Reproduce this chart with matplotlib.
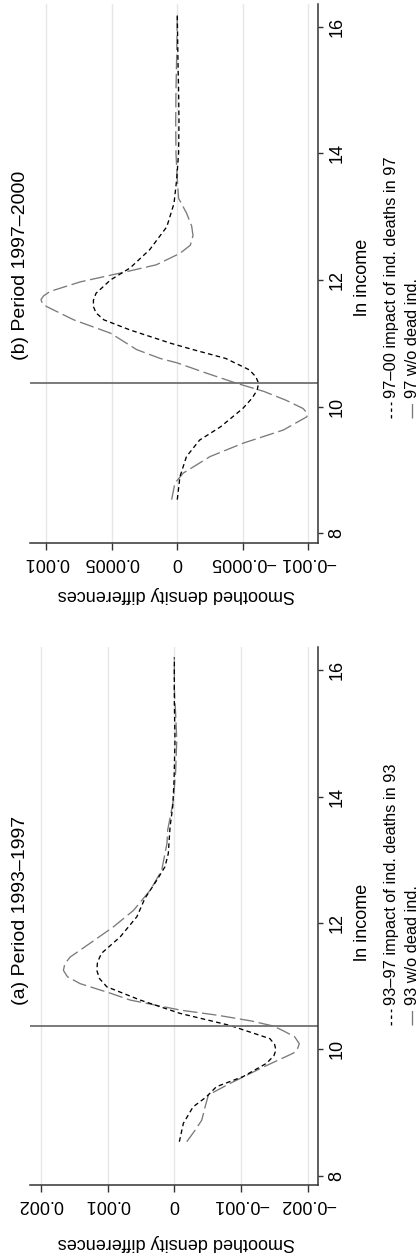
import matplotlib
matplotlib.use('Agg')
import matplotlib.pyplot as plt
from matplotlib.lines import Line2D

plt.rcParams['font.family'] = ['Liberation Sans', 'DejaVu Sans']

# ---- data (ln income, smoothed density differences) ----
# panel (a) 1993-1997
a_imp_x = [8.54, 8.83, 9.09, 9.25, 9.41, 9.57, 9.78, 9.9, 9.99, 10.08, 10.17, 10.38, 10.57,
           10.78, 10.99, 11.12, 11.25, 11.38, 11.52, 11.78, 12.10, 12.39, 12.68, 12.89, 13.10,
           13.52, 13.84, 14.26, 14.9, 15.5, 16.2]
a_imp_y = [-0.000075, -0.000135, -0.00028, -0.00048, -0.00063, -0.00103, -0.00138, -0.00149,
           -0.00152, -0.0015, -0.00143, -0.00083, -0.000085, 0.00051, 0.00101, 0.00112,
           0.00116, 0.00115, 0.00109, 0.00081, 0.00056, 0.00044, 0.00026, 0.00014, 0.00009,
           0.000064, 0.000024, 0.000004, -0.00001, 0.0, 0.0]
a_wo_x = [8.54, 8.72, 8.88, 9.09, 9.28, 9.46, 9.72, 9.94, 10.0, 10.09, 10.2, 10.3, 10.37,
          10.45, 10.54, 10.62, 10.78, 10.89, 11.04, 11.15, 11.25, 11.35, 11.46, 11.68, 11.94,
          12.2, 12.52, 12.83, 13.26, 13.47, 13.68, 13.94, 14.4, 14.89, 15.3, 15.7, 16.2]
a_wo_y = [-0.000186, -0.00031, -0.00041, -0.00046, -0.00051, -0.00083, -0.00133, -0.00178,
          -0.00184, -0.00187, -0.0018, -0.00162, -0.00148, -0.00115, -0.00065, -0.0001,
          0.00066, 0.00096, 0.00141, 0.0016, 0.00166, 0.00164, 0.00156, 0.00126, 0.00091,
          0.00061, 0.00036, 0.00019, 0.00011, 0.0001, 0.00006, 0.000015, -0.00002,
          -0.000036, -0.00002, 0.0, 0.0]

# panel (b) 1997-2000
b_imp_x = [8.53, 8.89, 9.21, 9.47, 9.68, 9.97, 10.13, 10.26, 10.37, 10.47, 10.58, 10.76,
           10.9, 11.0, 11.21, 11.37, 11.48, 11.58, 11.68, 11.79, 12.0, 12.19, 12.48, 12.84,
           13.21, 13.58, 14.0, 14.5, 15.0, 15.5, 16.18]
b_imp_y = [0.0, -0.00002, -0.00007, -0.00017, -0.00033, -0.0005, -0.00057, -0.00061,
           -0.00062, -0.0006, -0.00055, -0.00037, -0.00012, 0.00005, 0.00036, 0.00056,
           0.00062, 0.00064, 0.00064, 0.00062, 0.00051, 0.00036, 0.00021, 0.00008, 0.000025,
           0.000005, -0.00001, -0.000013, -0.00001, -0.000005, 0.0]
b_wo_x = [8.53, 8.79, 8.95, 9.21, 9.42, 9.63, 9.84, 9.9, 9.97, 10.1, 10.24, 10.37, 10.53,
          10.69, 10.76, 10.9, 11.16, 11.37, 11.58, 11.63, 11.69, 11.75, 11.82, 11.97, 12.13,
          12.24, 12.42, 12.55, 12.7, 12.85, 13.06, 13.29, 13.6, 14.0, 14.5, 15.0, 15.5, 16.18]
b_wo_y = [0.000043, 0.000018, -0.000046, -0.00025, -0.0005, -0.00081, -0.00099, -0.00099,
          -0.00096, -0.00083, -0.00066, -0.00045, -0.00022, 0.0, 0.00013, 0.00031, 0.00051,
          0.00079, 0.000997, 0.00103, 0.00104, 0.00102, 0.00097, 0.00074, 0.00039, 0.00016,
          -0.00002, -0.0001, -0.00012, -0.00011, -0.00007, -0.00001, 0.0, 0.00001, 0.000012,
          0.00001, 0.000005, 0.0]

cutoff = 10.37
income_ticks = [8, 10, 12, 14, 16]
a_dens_ticks = [0.002, 0.001, 0, -0.001, -0.002]
a_dens_labels = ['0.002', '0.001', '0', '\u22120.001', '\u22120.002']
b_dens_ticks = [0.001, 0.0005, 0, -0.0005, -0.001]
b_dens_labels = ['0.001', '0.0005', '0', '\u22120.0005', '\u22120.001']

titles = ['(a) Period 1993\u20131997', '(b) Period 1997\u20132000']
leg_a = ['93\u201397 impact of ind. deaths in 93', '93 w/o dead ind.']
leg_b = ['97\u201300 impact of ind. deaths in 97', '97 w/o dead ind.']

W, H = 419, 1257
fig = plt.figure(figsize=(W / 100, H / 100), dpi=100)


def fx(px):
    return px / W


def fy(py):
    return 1 - py / H


def panel(top, bottom, xlim, ylim, imp, wo, ticks, labels):
    # whole chart is drawn turned by 90 degrees: ln income runs upward
    ax = fig.add_axes([fx(30), fy(bottom), fx(318) - fx(30), (bottom - top) / H])
    ax.plot(wo[1], wo[0], color='#7a7a7a', lw=0.95, ls=(0, (11, 3.5)))
    ax.plot(imp[1], imp[0], color='black', lw=0.95, ls=(0, (3.5, 2.5)))
    ax.axhline(cutoff, color='#707070', lw=1.3)
    ax.set_xlim(*xlim)
    ax.set_ylim(*ylim)
    ax.set_xticks(ticks)
    ax.set_xticklabels(labels, rotation=180, fontsize=13)
    ax.set_yticks(income_ticks)
    ax.yaxis.tick_right()
    ax.set_yticklabels([str(t) for t in income_ticks], rotation=90, fontsize=13, va='center')
    ax.grid(axis='x', color='#e6e6e6', lw=1)
    ax.set_axisbelow(True)
    for s in ['top', 'left']:
        ax.spines[s].set_visible(False)
    for s in ['bottom', 'right']:
        ax.spines[s].set_color('#333333')
        ax.spines[s].set_linewidth(1.1)
    ax.tick_params(axis='x', length=5, width=1, color='#333333', pad=3)
    ax.tick_params(axis='y', length=3.5, width=1, color='#333333', pad=4)
    return ax


ax_b = panel(4, 543.3, (0.001124, -0.001074), (7.84, 16.36),
             (b_imp_x, b_imp_y), (b_wo_x, b_wo_y), b_dens_ticks, b_dens_labels)
ax_a = panel(646.7, 1185, (0.00216, -0.00215), (7.855, 16.37),
             (a_imp_x, a_imp_y), (a_wo_x, a_wo_y), a_dens_ticks, a_dens_labels)

# axis titles
for py_lab, py_inc in [(595, 277), (1243, 922)]:
    fig.text(fx(176), fy(py_lab), 'Smoothed density differences', rotation=180,
             ha='center', va='center', fontsize=13)
    fig.text(fx(362), fy(py_inc), 'ln income', rotation=90,
             ha='center', va='center', fontsize=13)

# panel titles
fig.text(fx(20), fy(360), titles[1], rotation=90, rotation_mode='anchor',
         ha='left', va='center', fontsize=14)
fig.text(fx(20), fy(1005), titles[0], rotation=90, rotation_mode='anchor',
         ha='left', va='center', fontsize=14)

# legends (drawn rotated)
for key_bot, labels in [(418, leg_b), (1025, leg_a)]:
    for i, (px, col, ls) in enumerate([(391, 'black', (0, (2.6, 2.4))),
                                        (412, '#7a7a7a', (0, (11, 3.5)))]):
        fig.add_artist(Line2D([fx(px), fx(px)], [fy(key_bot), fy(key_bot - 16)],
                              color=col, lw=0.95, ls=ls, transform=fig.transFigure))
        fig.text(fx(px), fy(key_bot - 20), labels[i], rotation=90, rotation_mode='anchor',
                 ha='left', va='center', fontsize=11.8)

fig.savefig('out.png', dpi=100)
